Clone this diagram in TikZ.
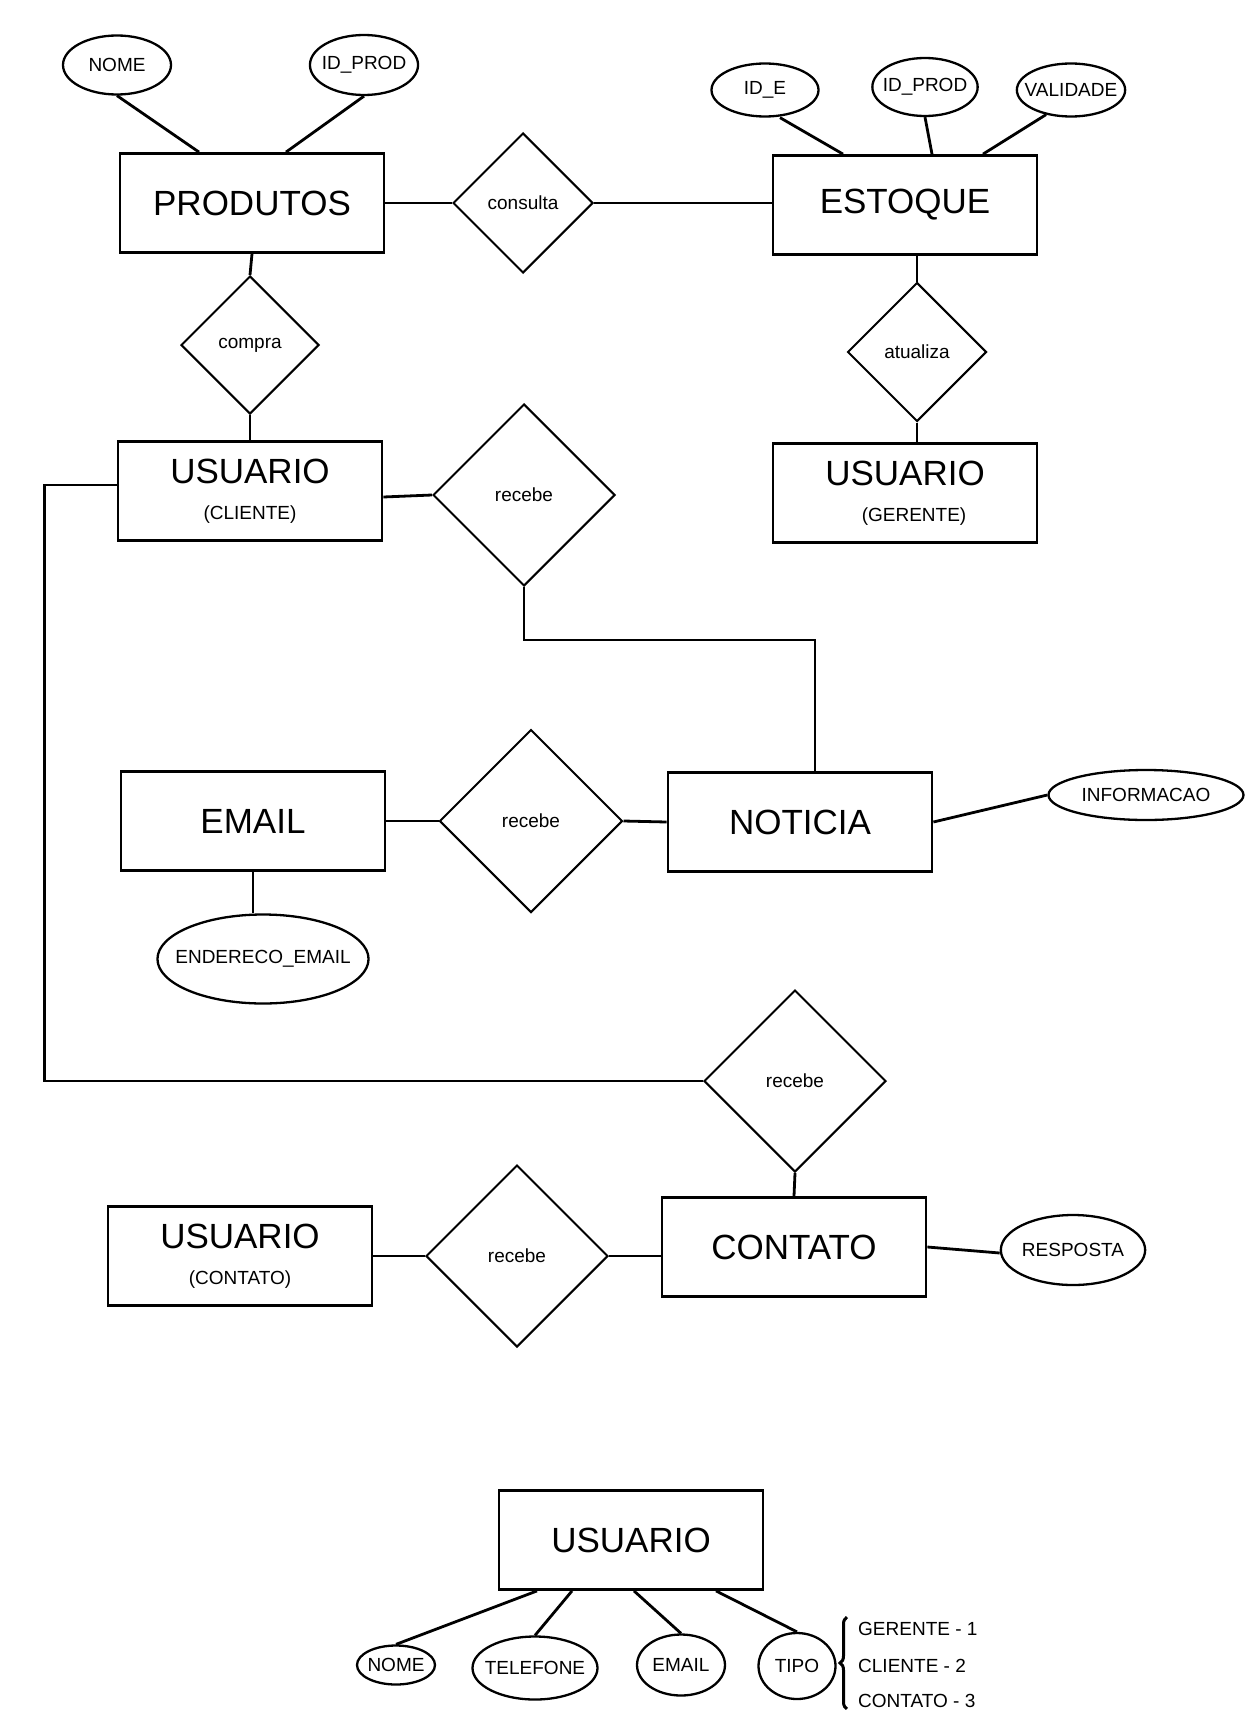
\documentclass[tikz,border=0pt]{standalone}
\usepackage{fontspec}
\setmainfont{Liberation Sans}
\usetikzlibrary{shapes.geometric, positioning, calc, decorations.pathreplacing}
\newcommand{\subtxt}[1]{{\fontsize{19}{22}\selectfont #1}}

\begin{document}
\begin{tikzpicture}[
    x=1pt, y=-1pt,
    entity/.style={
        draw,
        line width=2.8pt,
        minimum width=264pt,
        minimum height=99pt,
        align=center,
        inner sep=0pt,
        font=\fontsize{35}{36}\selectfont
    },
    rel/.style={
        diamond,
        draw,
        line width=2pt,
        minimum width=#1,
        minimum height=#1,
        inner sep=0pt,
        font=\fontsize{19}{22}\selectfont
    },
    attr/.style={
        ellipse,
        draw,
        line width=2.3pt,
        inner sep=0pt,
        font=\fontsize{19}{22}\selectfont
    },
    item/.style={anchor=west, inner sep=0pt, font=\fontsize{19}{22}\selectfont},
    link/.style={line width=2.8pt}
]

\useasboundingbox (0,0) rectangle (1255,1726);

% Produtos and Estoque
\node[entity] (produtos) at (252,203) {PRODUTOS};
\node[attr, minimum width=108pt, minimum height=59pt] (nomeP) at (117,65) {NOME};
\node[attr, inner xsep=-4pt, minimum width=108pt, minimum height=60pt] (idprodP) at (364,65) {ID\_PROD};
\node[rel=140pt] (consulta) at (523,203) {consulta};
\node[entity] (estoque) at (905,205) {ESTOQUE};
\node[attr, minimum width=107pt, minimum height=53pt] (idE) at (765,90) {ID\_E};
\node[attr, inner xsep=-5pt, minimum width=105pt, minimum height=58pt] (idprodE) at (925,87) {ID\_PROD};
\node[attr, inner xsep=-8pt, minimum width=107pt, minimum height=53pt] (validade) at (1071,90) {VALIDADE};

\draw[link] (nomeP.south) -- ([xshift=-53pt]produtos.north);
\draw[link] (idprodP.south) -- ([xshift=34pt]produtos.north);
\draw[link] (produtos.east) -- (consulta.west);
\draw[link] (consulta.east) -- ([yshift=2pt]estoque.west);
\draw[link] ([xshift=15pt]idE.south) -- ([xshift=-62pt]estoque.north);
\draw[link] (idprodE.south) -- ([xshift=27pt]estoque.north);
\draw[link] ([xshift=-25pt, yshift=3pt]validade.south) -- ([xshift=78pt]estoque.north);

% Usuarios (cliente / gerente)
\node[rel=138pt] (compra) at (250,345) {compra};
\node[entity] (usuarioC) at (250,491) {USUARIO\\\subtxt{(CLIENTE)}};
\node[rel=139pt] (atualiza) at (917,352) {atualiza};
\node[entity] (usuarioG) at (905,493) {USUARIO\\\subtxt{\hspace{18pt}(GERENTE)}};

\draw[link] (produtos.south) -- (compra.north);
\draw[link] (compra.south) -- (usuarioC.north);
\draw[link] ([xshift=12pt]estoque.south) -- (atualiza.north);
\draw[link] (atualiza.south) -- ([xshift=12pt]usuarioG.north);

% Noticia
\node[rel=182pt] (recebeN) at (524,495) {recebe};
\node[entity] (noticia) at (800,822) {NOTICIA};
\node[entity] (email) at (253,821) {EMAIL};
\node[rel=183pt] (recebeE) at (531,821) {recebe};
\node[attr, inner xsep=-13pt, minimum width=208pt, minimum height=89pt] (endereco) at (263,959) {ENDERECO\_EMAIL};
\node[attr, minimum width=195pt, minimum height=50pt] (informacao) at (1146,795) {INFORMACAO};

\draw[link] ([yshift=-6pt]usuarioC.east) -- (recebeN.west);
\draw[link] (recebeN.south) -- ++(0,53) -| ([xshift=15pt]noticia.north);
\draw[link] (email.east) -- (recebeE.west);
\draw[link] (recebeE.east) -- (noticia.west);
\draw[link] (email.south) -- (email.south |- endereco.north);
\draw[link] (noticia.east) -- (informacao.west);

% Contato
\node[rel=182pt] (recebeC) at (795,1081) {recebe};
\node[entity] (contato) at (794,1247) {CONTATO};
\node[entity] (usuarioCt) at (240,1256) {USUARIO\\\subtxt{(CONTATO)}};
\node[rel=182pt] (recebeU) at (517,1256) {recebe};
\node[attr, minimum width=143pt, minimum height=70pt] (resposta) at (1073,1250) {RESPOSTA};

\draw[link] ([yshift=6pt]usuarioC.west) -- ++(-72,0) |- (recebeC.west);
\draw[link] (recebeC.south) -- (contato.north);
\draw[link] (usuarioCt.east) -- (recebeU.west);
\draw[link] (recebeU.east) -- ([yshift=-9pt]contato.west);
\draw[link] (contato.east) -- ([yshift=-3pt]resposta.west);

% Usuario and its attributes
\node[entity] (usuario) at (631,1540) {USUARIO};
\node[attr, inner xsep=-3pt, minimum width=78pt, minimum height=39pt] (nomeU) at (396,1665) {NOME};
\node[attr, inner xsep=-11pt, minimum width=125pt, minimum height=63pt] (telefone) at (535,1668) {TELEFONE};
\node[attr, minimum width=88pt, minimum height=61pt] (emailU) at (681,1665) {EMAIL};
\node[attr, minimum width=77pt, minimum height=66pt] (tipo) at (797,1666) {TIPO};

\draw[link] ([xshift=-94pt]usuario.south) -- (nomeU.north);
\draw[link] ([xshift=-59pt]usuario.south) -- (telefone.north);
\draw[link] ([xshift=3pt]usuario.south) -- (emailU.north);
\draw[link] ([xshift=85pt]usuario.south) -- (tipo.north);

\node[item] (tipo1) at (858,1629) {GERENTE - 1};
\node[item] (tipo2) at (858,1666) {CLIENTE - 2};
\node[item] (tipo3) at (858,1701) {CONTATO - 3};
\draw[line width=3pt, decorate, decoration={brace, amplitude=7pt}]
    ([xshift=-11pt, yshift=-1pt]tipo3.south west) -- ([xshift=-11pt, yshift=5pt]tipo1.north west);

\end{tikzpicture}
\end{document}
